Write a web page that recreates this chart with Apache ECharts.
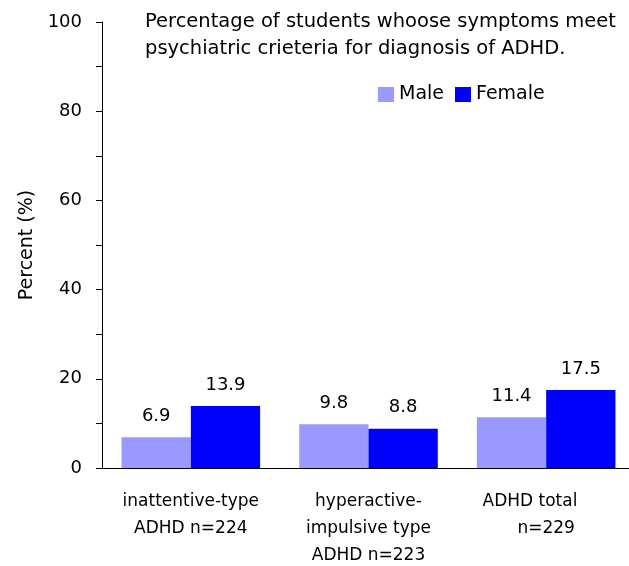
<!DOCTYPE html>
<html>
<head>
<meta charset="utf-8">
<script src="https://cdn.jsdelivr.net/npm/echarts@6/dist/echarts.min.js"></script>
<style>
  html, body { margin: 0; padding: 0; background: #fff; }
  #chart { width: 629px; height: 566px; }
</style>
</head>
<body>
<div id="chart"></div>
<script>
// data
const categories = [
  'inattentive-type\nADHD n=224',
  'hyperactive-\nimpulsive type\nADHD n=223',
  'ADHD total      \nn=229'
];
const maleValues = [6.9, 9.8, 11.4];
const femaleValues = [13.9, 8.8, 17.5];

const font = '"DejaVu Sans", sans-serif';

const myChart = echarts.init(document.getElementById('chart'));
const option = {
  animation: false,
  textStyle: { fontFamily: font, color: '#000' },
  title: {
    text: 'Percentage of students whoose symptoms meet\npsychiatric crieteria for diagnosis of ADHD.',
    left: 145,
    top: 8,
    padding: 0,
    textStyle: {
      fontFamily: font,
      fontWeight: 'normal',
      fontSize: 19.5,
      lineHeight: 27,
      color: '#000'
    }
  },
  legend: {
    left: 378,
    top: 85,
    padding: 0,
    itemWidth: 16,
    itemHeight: 15,
    itemGap: 11,
    icon: 'rect',
    textStyle: { fontFamily: font, fontSize: 19, color: '#000' },
    data: ['Male', 'Female']
  },
  grid: {
    left: 102,
    right: -6,
    top: 22,
    bottom: 98,
    containLabel: false,
    outerBoundsMode: 'none'
  },
  xAxis: {
    type: 'category',
    data: categories,
    axisLine: { lineStyle: { color: '#000', width: 1 } },
    axisTick: { length: 6, lineStyle: { color: '#000' } },
    axisLabel: {
      fontFamily: font,
      fontSize: 17,
      lineHeight: 27,
      color: '#000',
      margin: 20,
      interval: 0
    }
  },
  yAxis: {
    type: 'value',
    min: 0,
    max: 100,
    interval: 20,
    name: 'Percent (%)',
    nameLocation: 'middle',
    nameGap: 64,
    nameTextStyle: { fontFamily: font, fontSize: 19, color: '#000' },
    axisLine: { show: true, lineStyle: { color: '#000', width: 1 } },
    axisTick: { show: true, length: 6, lineStyle: { color: '#000' } },
    minorTick: { show: true, splitNumber: 2, length: 6, lineStyle: { color: '#000' } },
    splitLine: { show: false },
    axisLabel: { fontFamily: font, fontSize: 18, color: '#000', margin: 20 }
  },
  series: [
    {
      name: 'Male',
      type: 'bar',
      data: maleValues,
      barGap: '0%',
      barCategoryGap: '22%',
      itemStyle: { color: '#9999ff' },
      label: { show: true, position: 'top', distance: 12, fontFamily: font, fontSize: 18, color: '#000' }
    },
    {
      name: 'Female',
      type: 'bar',
      data: femaleValues,
      barGap: '0%',
      barCategoryGap: '22%',
      itemStyle: { color: '#0000ff' },
      label: { show: true, position: 'top', distance: 12, fontFamily: font, fontSize: 18, color: '#000' }
    }
  ]
};
myChart.setOption(option);
</script>
</body>
</html>
